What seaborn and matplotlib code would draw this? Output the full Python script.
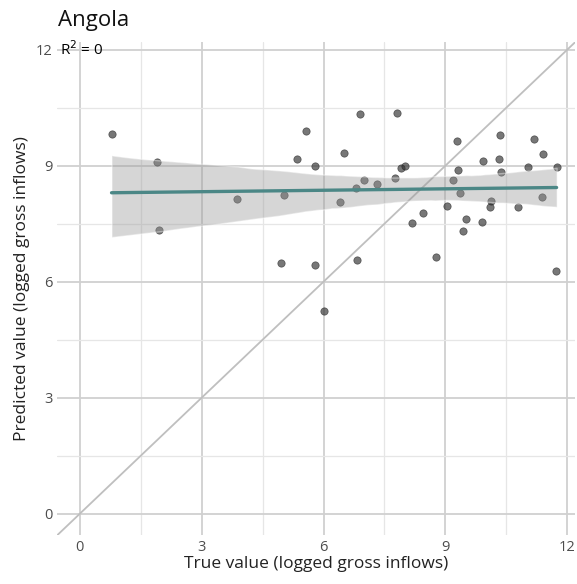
import numpy as np
import pandas as pd
import seaborn as sns
import matplotlib.pyplot as plt
from matplotlib.ticker import MultipleLocator

country = "Angola"
r2_label = "R$^2$ = 0"
true_vals = [0.78, 1.89, 1.94, 3.86, 5.03, 5.56, 5.34, 5.79, 4.95, 5.79,
             6.90, 7.82, 6.50, 6.99, 6.81, 7.31, 6.40, 7.75, 7.92, 8.00,
             8.46, 8.17, 9.04, 9.29, 9.31, 9.20, 9.36, 9.50, 9.44, 9.93,
             9.90, 10.12, 10.11, 10.35, 10.33, 10.38, 10.78, 11.03, 11.18, 11.40,
             11.38, 11.74, 11.73, 6.82, 8.76, 6.02]
pred_vals = [9.82, 9.11, 7.35, 8.14, 8.25, 9.90, 9.18, 9.00, 6.49, 6.44,
             10.33, 10.37, 9.33, 8.62, 8.43, 8.52, 8.06, 8.69, 8.94, 9.00,
             7.78, 7.52, 7.97, 9.65, 8.90, 8.64, 8.30, 7.63, 7.32, 9.13,
             7.54, 8.10, 7.94, 9.79, 9.18, 8.85, 7.94, 8.97, 9.70, 9.30,
             8.19, 8.97, 6.27, 6.55, 6.64, 5.23]
ticks = [0, 3, 6, 9, 12]

df = pd.DataFrame({"true": true_vals, "pred": pred_vals})

sns.set_style("white")
plt.rcParams['font.family'] = ['Open Sans', 'DejaVu Sans']

fig = plt.figure(figsize=(5.77, 5.84), dpi=100)
ax = fig.add_axes([0.099, 0.084, 0.898, 0.844])

ax.set_xlim(-0.56, 12.2)
ax.set_ylim(-0.55, 12.2)

# grid like ggplot theme_minimal
ax.xaxis.set_major_locator(MultipleLocator(3))
ax.yaxis.set_major_locator(MultipleLocator(3))
ax.xaxis.set_minor_locator(MultipleLocator(1.5))
ax.yaxis.set_minor_locator(MultipleLocator(1.5))
ax.grid(which="major", color="#d0d0d0", linewidth=1.3)
ax.grid(which="minor", color="#e6e6e6", linewidth=0.9)
ax.set_axisbelow(True)
for s in ax.spines.values():
    s.set_visible(False)
ax.tick_params(which="both", length=0, labelsize=10.5, labelcolor="#4d4d4d")

# 45 degree reference line
ax.axline((0, 0), slope=1, color="#bfbfbf", linewidth=1.3, zorder=1)

sns.regplot(data=df, x="true", y="pred", ax=ax, ci=95,
            scatter_kws={"color": "#2e2e2e", "alpha": 0.65, "s": 28,
                         "edgecolors": "#222222", "linewidths": 0.5},
            line_kws={"color": "#4b8786", "linewidth": 2.4, "zorder": 4})
band = ax.collections[1]
band.set_facecolor("#999999")
band.set_alpha(0.4)
band.set_zorder(3)

ax.set_xticks(ticks)
ax.set_yticks(ticks)
ax.set_xticklabels([str(t) for t in ticks])
ax.set_yticklabels([str(t) for t in ticks])

ax.set_xlabel("True value (logged gross inflows)", fontsize=12.5, color="#222222", labelpad=1)
ax.set_ylabel("Predicted value (logged gross inflows)", fontsize=12.5, color="#222222", labelpad=4)
ax.text(-0.5, 12.0, r2_label, fontsize=11, ha="left", va="center", color="black")
fig.text(0.1, 0.965, country, fontsize=16, ha="left", va="center", color="#111111")

fig.savefig("out.png", dpi=100)
